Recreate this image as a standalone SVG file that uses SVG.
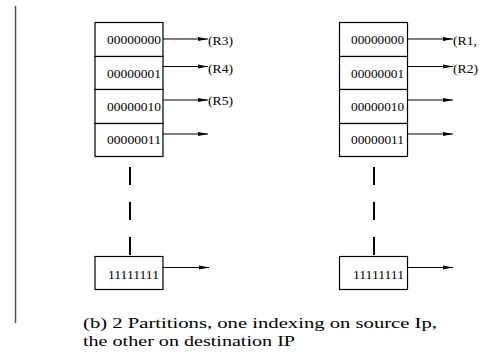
<svg xmlns="http://www.w3.org/2000/svg" width="500" height="360" viewBox="0 0 500 360" font-family="'Liberation Serif', 'Times New Roman', 'DejaVu Serif', serif">
<defs>
<marker id="ah" markerWidth="10" markerHeight="5" refX="10" refY="2.5" orient="auto" markerUnits="userSpaceOnUse">
<path d="M0,0.5 L10,2.5 L0,4.5 Z" fill="#000"/>
</marker>
<style>
.cell{fill:#fff;stroke:#000;stroke-width:1.2}
.num{font-family:'Liberation Serif','Times New Roman','DejaVu Serif',serif;font-size:11.5px;fill:#000;text-anchor:end}
.lbl{font-family:'Liberation Serif','Times New Roman','DejaVu Serif',serif;font-size:11.5px;fill:#000}
.cap{font-family:'Liberation Serif','Times New Roman','DejaVu Serif',serif;font-size:15.5px;fill:#000}
.arr{stroke:#000;stroke-width:1.1;fill:none;marker-end:url(#ah)}
.dash{stroke:#000;stroke-width:2;stroke-dasharray:18 17;fill:none}
</style>
</defs>
<rect width="500" height="360" fill="#fff"/>
<line x1="15.5" y1="6" x2="15.5" y2="323" stroke="#555" stroke-width="1.5"/>

<g id="left-table">
<rect class="cell" x="95" y="22.5" width="68" height="34"/>
<rect class="cell" x="95" y="56.5" width="68" height="33"/>
<rect class="cell" x="95" y="89.5" width="68" height="34"/>
<rect class="cell" x="95" y="123.5" width="68" height="33"/>
<text class="num" x="161" y="44" textLength="54" lengthAdjust="spacingAndGlyphs">00000000</text>
<text class="num" x="161" y="77.5" textLength="54" lengthAdjust="spacingAndGlyphs">00000001</text>
<text class="num" x="161" y="111" textLength="54" lengthAdjust="spacingAndGlyphs">00000010</text>
<text class="num" x="161" y="144" textLength="54" lengthAdjust="spacingAndGlyphs">00000011</text>
</g>
<g id="left-last">
<rect class="cell" x="95" y="256.5" width="68" height="33"/>
<text class="num" x="159" y="279" textLength="51" lengthAdjust="spacingAndGlyphs">11111111</text>
</g>

<g id="right-table">
<rect class="cell" x="339.5" y="22.5" width="68" height="34"/>
<rect class="cell" x="339.5" y="56.5" width="68" height="33"/>
<rect class="cell" x="339.5" y="89.5" width="68" height="34"/>
<rect class="cell" x="339.5" y="123.5" width="68" height="33"/>
<text class="num" x="404" y="44" textLength="53" lengthAdjust="spacingAndGlyphs">00000000</text>
<text class="num" x="404" y="77.5" textLength="53" lengthAdjust="spacingAndGlyphs">00000001</text>
<text class="num" x="404" y="111" textLength="53" lengthAdjust="spacingAndGlyphs">00000010</text>
<text class="num" x="404" y="144" textLength="53" lengthAdjust="spacingAndGlyphs">00000011</text>
</g>
<g id="right-last">
<rect class="cell" x="339.5" y="256.5" width="68" height="33"/>
<text class="num" x="404" y="279" textLength="51" lengthAdjust="spacingAndGlyphs">11111111</text>
</g>

<g id="labels">
<text class="lbl" x="208" y="45" textLength="25" lengthAdjust="spacingAndGlyphs">(R3)</text>
<text class="lbl" x="208" y="73" textLength="25" lengthAdjust="spacingAndGlyphs">(R4)</text>
<text class="lbl" x="208" y="105" textLength="25" lengthAdjust="spacingAndGlyphs">(R5)</text>
<text class="lbl" x="453" y="45" textLength="24" lengthAdjust="spacingAndGlyphs">(R1,</text>
<text class="lbl" x="453" y="73" textLength="25" lengthAdjust="spacingAndGlyphs">(R2)</text>
</g>

<g id="connectors">
<line class="arr" x1="163" y1="39" x2="208" y2="39"/>
<line class="arr" x1="163" y1="66.5" x2="208" y2="66.5"/>
<line class="arr" x1="163" y1="100" x2="208" y2="100"/>
<line class="arr" x1="163" y1="134" x2="208" y2="134"/>
<line class="arr" x1="163" y1="267.5" x2="209" y2="267.5"/>
<line class="arr" x1="407.5" y1="39" x2="453" y2="39"/>
<line class="arr" x1="407.5" y1="66.5" x2="453" y2="66.5"/>
<line class="arr" x1="407.5" y1="100" x2="453" y2="100"/>
<line class="arr" x1="407.5" y1="134" x2="453" y2="134"/>
<line class="arr" x1="407.5" y1="267.5" x2="453" y2="267.5"/>
<line class="dash" x1="130" y1="167" x2="130" y2="256"/>
<line class="dash" x1="374" y1="167" x2="374" y2="256"/>
</g>

<text class="cap" x="83" y="328" textLength="354" lengthAdjust="spacingAndGlyphs">(b) 2 Partitions, one indexing on source Ip,</text>
<text class="cap" x="83" y="346" textLength="212" lengthAdjust="spacingAndGlyphs">the other on destination IP</text>
</svg>
